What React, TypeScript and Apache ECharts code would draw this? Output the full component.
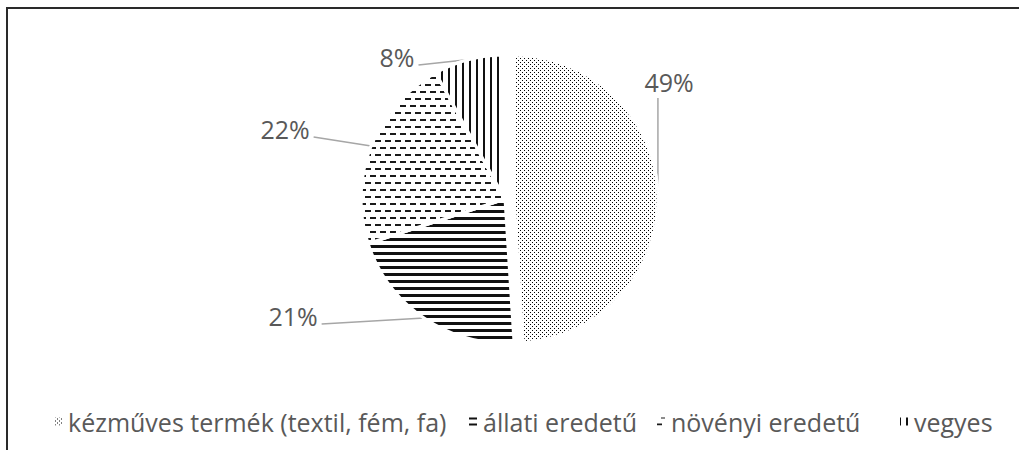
import React, { useEffect, useRef } from 'react';
import * as echarts from 'echarts';

const categories = ['kézműves termék (textil, fém, fa)', 'állati eredetű', 'növényi eredetű', 'vegyes'];
const values = [49, 21, 22, 8];
const legendLeft = [52, 467, 655, 898];
const labelPos = [[669, 82], [293, 316], [285, 129], [397, 57]];

// geometry of the pie (the first slice is pulled out to the right)
const CX = 505;
const CY = 199;
const R = 144;
const EXPLODE = 9;

const decals: any[] = [
  { symbol: 'rect', symbolSize: 1, color: '#000', dashArrayX: [[1, 3], [0, 2, 1, 1]], dashArrayY: [1, 1] },
  { symbol: 'rect', symbolSize: 1, color: '#111', dashArrayX: [1, 0], dashArrayY: [3, 4] },
  { symbol: 'rect', symbolSize: 1, color: '#1a1a1a', dashArrayX: [[6, 4], [1, 4, 5, 0]], dashArrayY: [2, 5] },
  { symbol: 'rect', symbolSize: 1, color: '#111', dashArrayX: [2, 5], dashArrayY: [1, 0] },
];

const hidden = { color: 'rgba(0,0,0,0)', borderWidth: 0, decal: null };

function buildData(visible: (i: number) => boolean) {
  return values.map((v, i) =>
    visible(i)
      ? { value: v, name: categories[i], itemStyle: { color: '#fff', decal: decals[i] } }
      : {
          value: v,
          name: ' '.repeat(i + 1),
          itemStyle: hidden,
          label: { show: false },
          labelLine: { show: false },
        }
  );
}

// label placed at labelPos; leader line from the middle of the slice's arc to the label
function layoutLabel(p: any) {
  const i = p.dataIndex;
  const [lx, ly] = labelPos[i];
  const w = p.labelRect.width;
  const start = p.labelLinePoints ? p.labelLinePoints[0] : [lx, ly];
  let end: number[];
  if (start[0] >= lx - w / 2 && start[0] <= lx + w / 2 + 5) {
    end = [start[0], ly + 16];
  } else {
    end = [lx + w / 2 + 4, ly + 8];
  }
  return {
    x: lx,
    y: ly,
    align: 'center',
    verticalAlign: 'middle',
    labelLinePoints: [start, end, end],
  };
}

export default function App() {
  const ref = useRef<HTMLDivElement>(null);
  useEffect(() => {
    const chart = echarts.init(ref.current!, null, { renderer: 'svg' });
    const common: any = {
      type: 'pie',
      radius: R,
      startAngle: 90,
      clockwise: true,
      silent: true,
      emphasis: { disabled: true },
      itemStyle: { borderColor: '#fff', borderWidth: 3 },
      label: {
        show: true,
        position: 'outside',
        formatter: '{c}%',
        color: '#595959',
        fontSize: 25,
        fontFamily: 'Open Sans',
      },
      labelLine: { show: true, length: 0, length2: 0, lineStyle: { color: '#a6a6a6', width: 1.5 } },
      labelLayout: layoutLabel,
    };
    const option: any = {
      animation: false,
      graphic: [
        {
          type: 'polyline',
          shape: { points: [[7, 450], [7, 8], [1019, 8]] },
          style: { stroke: '#2a2a2a', lineWidth: 2, fill: null },
        },
      ],
      legend: categories.map((c, i) => ({
        data: [c],
        left: legendLeft[i],
        top: 409,
        padding: 0,
        icon: 'rect',
        itemWidth: 10,
        itemHeight: 10,
        selectedMode: false,
        textStyle: { color: '#595959', fontSize: 25, fontFamily: 'Open Sans' },
      })),
      series: [
        { ...common, center: [CX + EXPLODE, CY], data: buildData((i) => i === 0) },
        { ...common, center: [CX, CY], data: buildData((i) => i !== 0) },
      ],
    };
    chart.setOption(option);
    return () => chart.dispose();
  }, []);
  return <div ref={ref} style={{ position: 'absolute', left: 0, top: 0, width: 1019, height: 450 }} />;
}
